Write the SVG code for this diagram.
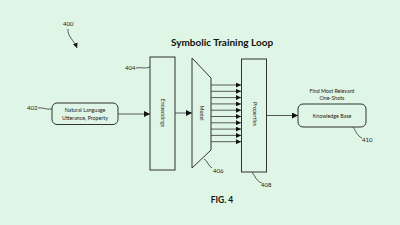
<svg xmlns="http://www.w3.org/2000/svg" width="400" height="225" viewBox="0 0 400 225">
<style>
.bg{fill:#dff5e6}
.box{fill:none;stroke:#333;stroke-width:1}
.ln{fill:none;stroke:#333;stroke-width:0.8}
.t{font-family:Lato,"Liberation Sans",sans-serif;fill:#222;font-size:5.3px;text-anchor:middle}
.lbl{font-family:Lato,"Liberation Sans",sans-serif;fill:#222;font-size:6px}
.title{font-family:Lato,"Liberation Sans",sans-serif;fill:#111;font-weight:bold;text-anchor:middle}
</style>
<defs>
<marker id="ah" viewBox="0 0 10 10" refX="10" refY="5" markerWidth="6" markerHeight="6" orient="auto" markerUnits="userSpaceOnUse">
<path d="M0,0 L10,5 L0,10 z" fill="#111"/>
</marker>
<marker id="ah2" viewBox="0 0 10 10" refX="10" refY="5" markerWidth="5" markerHeight="5" orient="auto" markerUnits="userSpaceOnUse">
<path d="M0,0 L10,5 L0,10 z" fill="#111"/>
</marker>
</defs>
<rect class="bg" x="0" y="0" width="400" height="225"/>
<text class="title" x="222" y="46" font-size="10">Symbolic Training Loop</text>
<text class="title" x="222" y="203" font-size="8.5">FIG. 4</text>
<g id="ref400">
<text class="lbl" x="63" y="26">400</text>
<path class="ln" d="M68,29 C67,36 74,40 77,48" marker-end="url(#ah2)"/>
</g>
<g id="n402">
<rect class="box" x="52" y="103" width="66" height="21.5" rx="5"/>
<text class="t" x="85" y="111.5">Natural Language</text>
<text class="t" x="85" y="119.5">Utterance, Property</text>
<text class="lbl" x="27" y="110">402</text>
</g>
<g id="n404">
<rect class="box" x="150" y="57" width="25" height="113"/>
<text class="t" transform="translate(161,113) rotate(90)">Embeddings</text>
<text class="lbl" x="125" y="70">404</text>
</g>
<g id="n406">
<path class="box" d="M192,58 L211,78 L211,150 L192,168 Z"/>
<text class="t" transform="translate(200,113) rotate(90)">Model</text>
<text class="lbl" x="213" y="173">406</text>
</g>
<g id="n408">
<rect class="box" x="241.5" y="59" width="25" height="113"/>
<text class="t" transform="translate(253,114) rotate(90)">Properties</text>
<text class="lbl" x="261" y="187">408</text>
</g>
<g id="n410">
<rect class="box" x="298" y="104" width="68" height="23" rx="5"/>
<text class="t" x="332" y="117.5">Knowledge Base</text>
<text class="t" x="332" y="92.5">Find Most Relevant</text>
<text class="t" x="332" y="100">One-Shots</text>
<text class="lbl" x="362" y="142">410</text>
</g>
<g id="connectors">
<path class="ln" d="M38,108 C43,107 46,110 52,109"/>
<path class="ln" d="M136,68 C141,67 145,69 150,67"/>
<path class="ln" d="M204,159 C208,161 208,166 212,168"/>
<path class="ln" d="M252,172 C255,176 257,182 262,183"/>
<path class="ln" d="M353,127 C356,131 357,136 362,138"/>
<line class="ln" x1="118" y1="114" x2="150" y2="114" marker-end="url(#ah)"/>
<line class="ln" x1="175" y1="113" x2="192" y2="113" marker-end="url(#ah)"/>
<line class="ln" x1="266.5" y1="115.5" x2="298" y2="115.5" marker-end="url(#ah)"/>
<line class="ln" x1="211" y1="85" x2="241" y2="85" marker-end="url(#ah2)"/>
<line class="ln" x1="211" y1="91.3" x2="241" y2="91.3" marker-end="url(#ah2)"/>
<line class="ln" x1="211" y1="97.6" x2="241" y2="97.6" marker-end="url(#ah2)"/>
<line class="ln" x1="211" y1="103.9" x2="241" y2="103.9" marker-end="url(#ah2)"/>
<line class="ln" x1="211" y1="110.2" x2="241" y2="110.2" marker-end="url(#ah2)"/>
<line class="ln" x1="211" y1="116.5" x2="241" y2="116.5" marker-end="url(#ah2)"/>
<line class="ln" x1="211" y1="122.8" x2="241" y2="122.8" marker-end="url(#ah2)"/>
<line class="ln" x1="211" y1="129.1" x2="241" y2="129.1" marker-end="url(#ah2)"/>
<line class="ln" x1="211" y1="135.4" x2="241" y2="135.4" marker-end="url(#ah2)"/>
<line class="ln" x1="211" y1="141.7" x2="241" y2="141.7" marker-end="url(#ah2)"/>
</g>
</svg>
